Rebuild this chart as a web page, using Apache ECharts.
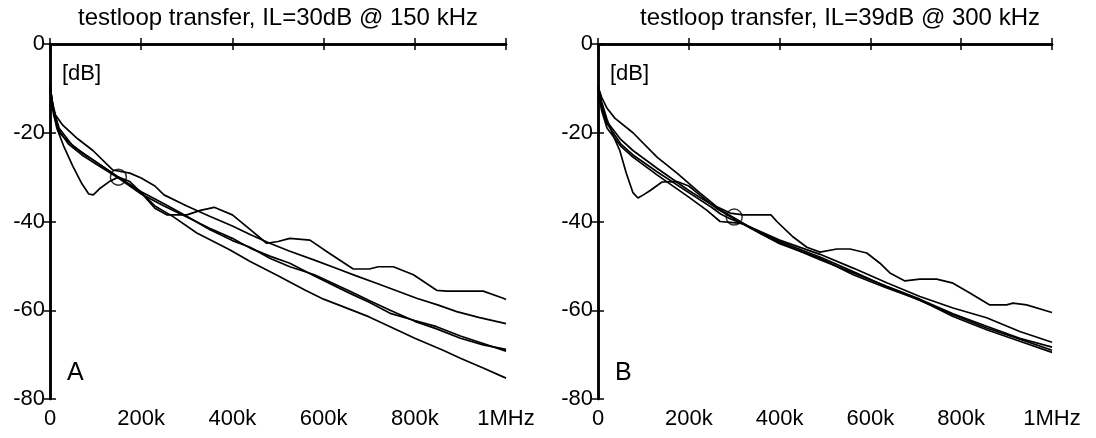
<!DOCTYPE html>
<html>
<head>
<meta charset="utf-8">
<script src="https://cdn.jsdelivr.net/npm/echarts@6/dist/echarts.min.js"></script>
<style>
  html, body { margin: 0; background: #fff; }
  #chart { width: 1096px; height: 438px; }
</style>
</head>
<body>
<div id="chart"></div>
<script>
// frequency in kHz, transfer in dB
const titles = ['testloop transfer, IL=30dB @ 150 kHz', 'testloop transfer, IL=39dB @ 300 kHz']
const panelLetters = ['A', 'B']
const xTicks = [0, 200, 400, 600, 800, 1000]
const yTicks = [-80, -60, -40, -20, 0]

// panel A curves
const loopA1 = [[0,-9.5],[5,-14],[15,-19],[30,-23],[50,-27.5],[70,-31.5],[85,-33.8],[95,-34],[110,-32.5],[130,-31],[150,-30],[175,-31],[200,-33.5],[230,-37],[256,-38.5],[300,-38.5],[330,-37.5],[360,-36.8],[400,-38.5],[440,-41.9],[475,-44.9],[500,-44.5],[526,-43.8],[570,-44.2],[610,-47],[665,-50.7],[700,-50.7],[720,-50.2],[753,-50.2],[797,-52],[848,-55.5],[870,-55.7],[950,-55.7],[994,-57.3],[1000,-57.6]]
const loopA2 = [[0,-9.5],[5,-13],[12,-16],[28,-18.3],[60,-21.3],[94,-24],[138,-28.4],[175,-29.1],[200,-30.2],[230,-32],[250,-34],[300,-36.5],[350,-38.8],[400,-41],[440,-43],[482,-44.9],[526,-46.7],[580,-48.7],[629,-50.6],[670,-52.2],[716,-53.9],[760,-55.6],[804,-57.3],[850,-58.8],[892,-60.3],[940,-61.6],[1000,-63]]
const loopA3 = [[0,-9.5],[8,-15],[20,-19.5],[40,-22.5],[70,-25],[100,-27],[150,-30.2],[200,-33.8],[250,-36.5],[300,-39],[350,-41.5],[400,-43.8],[439,-46],[482,-47.8],[526,-49.4],[580,-52.3],[658,-56.2],[700,-58.2],[746,-60.7],[800,-62.3],[848,-63.7],[900,-65.8],[950,-67.5],[1000,-69.2]]
const loopA4 = [[0,-9.5],[8,-16],[20,-20],[40,-22],[70,-24.5],[100,-26.5],[150,-30],[200,-33.3],[250,-36],[300,-38.8],[350,-41.8],[400,-44.3],[439,-45.8],[482,-48.3],[526,-50.2],[580,-52],[658,-55.7],[700,-57.8],[746,-60],[800,-62.5],[848,-64.2],[900,-66.3],[950,-67.8],[1000,-68.8]]
const loopA5 = [[0,-9.5],[8,-15],[20,-19],[50,-23],[100,-26.5],[150,-30],[197,-33.2],[230,-36.5],[270,-38.9],[322,-42.6],[395,-46.4],[439,-49],[500,-52.2],[560,-55.5],[600,-57.5],[658,-59.8],[700,-61.5],[746,-63.7],[800,-66.3],[862,-69],[900,-70.8],[950,-73],[1000,-75.3]]

// panel B curves
const loopB1 = [[0,-9.5],[8,-12],[20,-14.5],[37,-16.7],[77,-20],[130,-25.5],[174,-29.1],[225,-33.6],[262,-36.7],[291,-38.1],[320,-38.5],[381,-38.5],[394,-40],[430,-43.5],[460,-45.8],[489,-46.9],[526,-46.2],[555,-46.2],[592,-47.1],[621,-49.4],[643,-51.6],[676,-53.4],[709,-53],[746,-53],[782,-53.9],[819,-56.1],[863,-58.8],[900,-58.8],[914,-58.4],[944,-58.8],[1000,-60.5]]
const loopB2 = [[0,-9.5],[8,-13],[20,-17],[35,-21],[48,-24],[62,-29],[77,-33.5],[88,-34.7],[100,-34],[115,-33],[141,-31.1],[174,-31],[200,-32],[230,-34.5],[260,-37],[290,-38.8],[320,-40.5],[360,-42.5],[400,-44.5],[450,-46.5],[489,-48],[562,-51.3],[636,-54.7],[709,-57.8],[782,-61],[856,-64],[929,-66.5],[1000,-69]]
const loopB3 = [[0,-9.5],[8,-14],[20,-17.5],[50,-21.5],[77,-24],[130,-28],[200,-33],[250,-36.2],[290,-38.6],[330,-41],[400,-44.2],[489,-47.4],[562,-50.5],[636,-53.8],[709,-56.9],[782,-59.5],[856,-61.7],[929,-64.8],[1000,-67.2]]
const loopB4 = [[0,-9.5],[8,-14.5],[20,-18],[50,-22.5],[77,-25],[130,-28.8],[200,-33.5],[250,-36.8],[270,-38.3],[290,-39.3],[320,-40.6],[400,-45],[489,-48.3],[562,-52],[636,-55],[709,-57.7],[782,-61.4],[856,-64.4],[929,-67],[1000,-69.5]]
const loopB5 = [[0,-9.5],[8,-15],[20,-19],[50,-23],[77,-25.5],[130,-29.5],[200,-34.5],[240,-37.5],[269,-40],[291,-40.2],[320,-40.5],[360,-42.8],[400,-44.8],[489,-48.6],[562,-51.6],[636,-54.6],[709,-57.5],[782,-60.8],[856,-63.6],[929,-66.3],[1000,-68.3]]

// insertion loss markers
const markerA = [[150, -30]]
const markerB = [[300, -39]]

const panelCurves = [[loopA1, loopA2, loopA3, loopA4, loopA5], [loopB1, loopB2, loopB3, loopB4, loopB5]]
const panelMarkers = [markerA, markerB]

const font = 'Liberation Sans, Arial, sans-serif'
const grids = [
  { left: 50, top: 44, width: 456, height: 355 },
  { left: 598, top: 44, width: 454, height: 355 }
]

function fmtX(v) {
  if (v === 0) return '0'
  if (v === 1000) return '1MHz'
  return v + 'k'
}

const frameLine = { lineStyle: { color: '#000', width: 2.5 } }
const tick = { inside: true, length: 6, lineStyle: { color: '#000', width: 1.5 } }

const xAxis = [], yAxis = [], series = [], graphic = []
grids.forEach((g, i) => {
  ;['bottom', 'top'].forEach(pos => {
    xAxis.push({
      gridIndex: i, type: 'value', position: pos,
      min: xTicks[0], max: xTicks[xTicks.length - 1], interval: 200,
      axisLine: frameLine, axisTick: tick, splitLine: { show: false },
      axisLabel: { show: pos === 'bottom', color: '#000', fontSize: 22, fontFamily: font, margin: 9, formatter: fmtX }
    })
  })
  ;['left', 'right'].forEach(pos => {
    yAxis.push({
      gridIndex: i, type: 'value', position: pos,
      min: yTicks[0], max: yTicks[yTicks.length - 1], interval: 20,
      axisLine: frameLine, axisTick: tick, splitLine: { show: false },
      axisLabel: { show: pos === 'left', color: '#000', fontSize: 22, fontFamily: font, margin: 5 }
    })
  })
  panelCurves[i].forEach(c => {
    series.push({
      type: 'line', xAxisIndex: i * 2, yAxisIndex: i * 2, data: c,
      showSymbol: false, lineStyle: { color: '#000', width: 1.7 }, z: 2
    })
  })
  series.push({
    type: 'scatter', xAxisIndex: i * 2, yAxisIndex: i * 2, data: panelMarkers[i],
    symbol: 'circle', symbolSize: 16, z: 3,
    itemStyle: { color: 'rgba(0,0,0,0)', borderColor: '#000', borderWidth: 1.5 }
  })
  graphic.push(
    { type: 'text', x: [278, 840][i], y: 6, style: { text: titles[i], font: '24px ' + font, fill: '#000', align: 'center' } },
    { type: 'text', x: g.left + 12, y: g.top + 19, style: { text: '[dB]', font: '22px ' + font, fill: '#000' } },
    { type: 'text', x: g.left + 17, y: g.top + 317, style: { text: panelLetters[i], font: '25px ' + font, fill: '#000' } }
  )
})

const chart = echarts.init(document.getElementById('chart'))
chart.setOption({
  animation: false,
  backgroundColor: '#fff',
  grid: grids,
  xAxis: xAxis,
  yAxis: yAxis,
  series: series,
  graphic: graphic
})
</script>
</body>
</html>
